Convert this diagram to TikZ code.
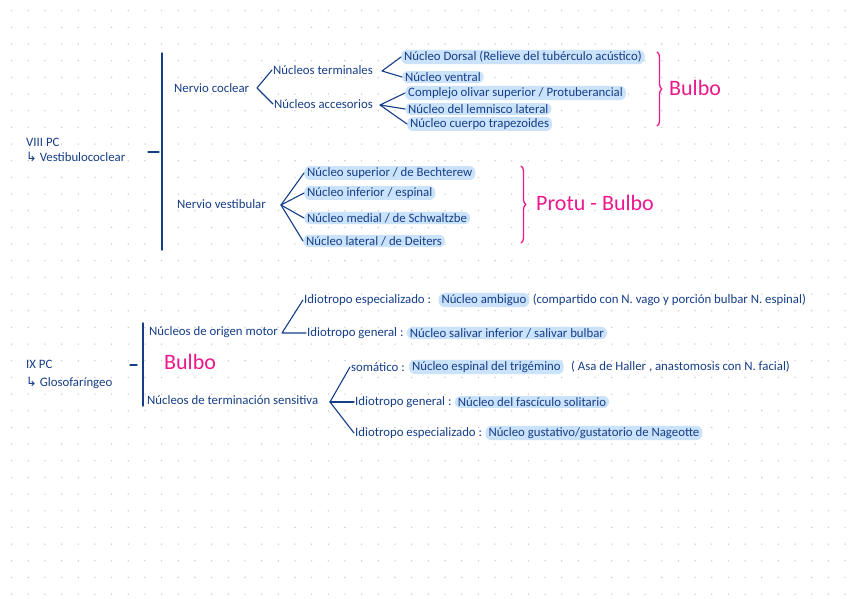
\documentclass[tikz,border=0pt]{standalone}
\usepackage{fontspec}
\setmainfont{Carlito}
\newfontfamily\symfont{DejaVu Sans}
\usetikzlibrary{positioning, decorations.pathreplacing}
\definecolor{ink}{RGB}{22,62,135}
\definecolor{marker}{RGB}{202,226,250}
\definecolor{pinkink}{RGB}{236,24,140}
\definecolor{dotgray}{RGB}{205,205,205}
\newcommand{\hookarrow}{{\symfont\char"21B3}}

\begin{document}
\begin{tikzpicture}[x=1pt, y=-1pt, line cap=round, line join=round, node distance=2pt,
    txt/.style={anchor=west, inner sep=1pt, text=ink, font=\fontsize{12.8}{14}\selectfont},
    hl/.style={txt, fill=marker, rounded corners=6pt, inner xsep=3pt, inner ysep=1.5pt},
    tag/.style={anchor=west, inner sep=0pt, text=pinkink, font=\fontsize{22}{24}\selectfont},
    link/.style={draw=ink, line width=1.1pt},
    bar/.style={draw=ink, line width=1.4pt},
    curly/.style={draw=pinkink, line width=1.3pt, decorate, decoration={brace, amplitude=5pt}}]
    \useasboundingbox (0,0) rectangle (848,599);
    \fill[white] (0,0) rectangle (848,599);
    % dotted paper
    \foreach \i in {0,...,50}
        \foreach \j in {0,...,35}
            \fill[dotgray] (11.6+\i*16.67, 10.7+\j*16.67) circle (0.8);

    % VIII par craneal
    \node[txt, align=left, font=\fontsize{12.8}{15}\selectfont] (viii) at (25,150) {VIII PC\\\hookarrow\ Vestibulococlear};
    \coordinate (b1top) at (162,53);
    \coordinate (b1bot) at (162,250);
    \coordinate (b1mid) at (159,152);
    \draw[bar] (b1top) -- (b1bot);
    \draw[link] (b1mid) -- ++(-11,0);

    \node[txt] (coclear) at (173,88) {Nervio coclear};
    \coordinate (v1) at (257,88);
    \node[txt] (terminales) at (272,70) {Núcleos terminales};
    \node[txt] (accesorios) at (273,104) {Núcleos accesorios};
    \draw[link] (terminales.west) -- (v1) -- (accesorios.west);

    \coordinate (v2) at (382,71);
    \node[hl] (dorsal) at (401,57) {Núcleo Dorsal (Relieve del tubérculo acústico)};
    \node[hl] (ventral) at (402,77) {Núcleo ventral};
    \draw[link] (dorsal.west) -- (v2) -- (ventral.west);

    \coordinate (v3) at (380,105);
    \node[hl] (olivar) at (405,93) {Complejo olivar superior / Protuberancial};
    \node[hl] (lemnisco) at (405,109) {Núcleo del lemnisco lateral};
    \node[hl] (trapezoide) at (407,124) {Núcleo cuerpo trapezoides};
    \draw[link] (olivar.west) -- (v3) -- (lemnisco.west);
    \draw[link] (v3) -- (trapezoide.west);

    \draw[curly] (657,52) -- (657,126);
    \node[tag] (bulbo1) at (669,88) {Bulbo};

    \node[txt] (vestibular) at (176,204) {Nervio vestibular};
    \coordinate (v4) at (281,205);
    \node[hl] (superior) at (304,173) {Núcleo superior / de Bechterew};
    \node[hl] (inferior) at (304,193) {Núcleo inferior / espinal};
    \node[hl] (medial) at (304,218) {Núcleo medial / de Schwaltzbe};
    \node[hl] (lateral) at (303,241) {Núcleo lateral / de Deiters};
    \foreach \n in {superior, inferior, medial, lateral}
        \draw[link] (v4) -- (\n.west);

    \draw[curly] (521,166) -- (521,243);
    \node[tag] (protubulbo) at (536,203) {Protu - Bulbo};

    % IX par craneal
    \node[txt, align=left, font=\fontsize{12.8}{18}\selectfont] (ix) at (25,374) {IX PC\\\hookarrow\ Glosofaríngeo};
    \coordinate (b2top) at (143,323);
    \coordinate (b2bot) at (143,406);
    \coordinate (b2mid) at (137,365);
    \draw[bar] (b2top) -- (b2bot);
    \draw[link] (b2mid) -- ++(-7,0);

    \node[txt] (motor) at (148,332) {Núcleos de origen motor};
    \node[tag] (bulbo2) at (164,362) {Bulbo};
    \node[txt] (sensitiva) at (146,400) {Núcleos de terminación sensitiva};

    \coordinate (m1) at (282,333);
    \node[txt] (espec1) at (303,300) {Idiotropo especializado :};
    \node[hl, right=6pt of espec1] (ambiguo) {Núcleo ambiguo};
    \node[txt, right=2pt of ambiguo] (ambiguo2) {(compartido con N. vago y porción bulbar N. espinal)};
    \node[txt] (gen1) at (306,333) {Idiotropo general :};
    \node[hl, right=of gen1] (salival) {Núcleo salivar inferior / salivar bulbar};
    \draw[link] (espec1.west) -- (m1) -- (gen1.west);

    \coordinate (s1) at (330,402);
    \node[txt] (somatico) at (350,367) {somático :};
    \node[hl, right=3pt of somatico] (trigemino) {Núcleo espinal del trigémino};
    \node[txt, right=6pt of trigemino] (trigemino2) {( Asa de Haller , anastomosis con N. facial)};
    \node[txt] (gen2) at (354,402) {Idiotropo general :};
    \node[hl, right=of gen2] (solitario) {Núcleo del fascículo solitario};
    \node[txt] (espec2) at (354,433) {Idiotropo especializado :};
    \node[hl, right=of espec2] (nageotte) {Núcleo gustativo/gustatorio de Nageotte};
    \foreach \n in {somatico, gen2, espec2}
        \draw[link] (s1) -- (\n.west);
\end{tikzpicture}
\end{document}
